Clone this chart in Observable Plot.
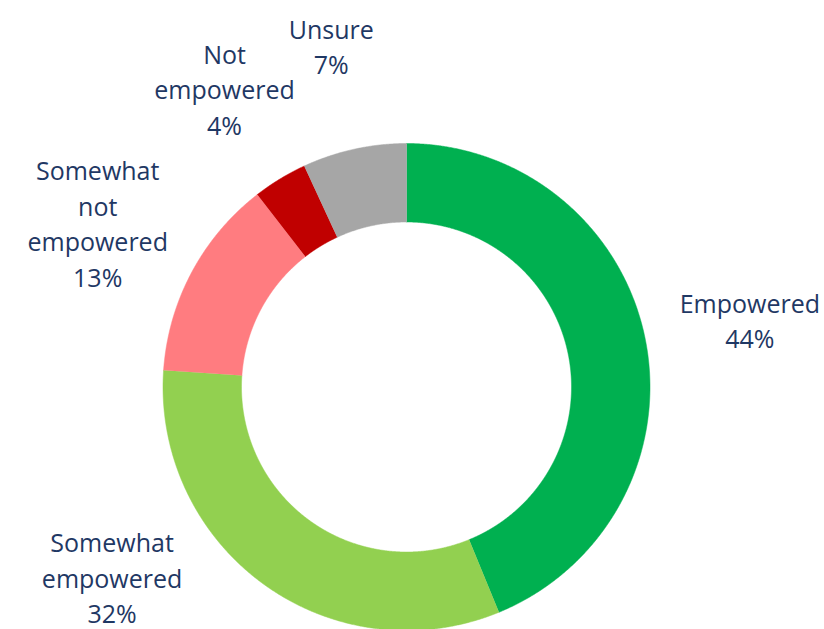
<!DOCTYPE html>
<html>
<head>
<meta charset="utf-8">
<script src="https://cdn.jsdelivr.net/npm/d3@7"></script>
<script src="https://cdn.jsdelivr.net/npm/@observablehq/plot@0.6"></script>
<style>
  html, body { margin: 0; padding: 0; background: #ffffff; }
  #chart svg { display: block; }
</style>
</head>
<body>
<div id="chart"></div>
<script>
// Data (share of respondents, %)
const categories = ["Empowered", "Somewhat empowered", "Somewhat not empowered", "Not empowered", "Unsure"];
const values = [43.8, 32.3, 13.4, 3.6, 6.9];
const labelNames = ["Empowered", "Somewhat\nempowered", "Somewhat\nnot\nempowered", "Not\nempowered", "Unsure"];
const colors = ["#00B050", "#92D050", "#FF7C80", "#C00000", "#A6A6A6"];

// Layout (pixel units, centre of the donut at 0,0, y up)
const W = 824, H = 629;
const cx = 406, cy = 386.5;
const outerR = 243.5, innerR = 165;
const labelR = 350, fontSize = 25, lineHeight = 1.42;

const total = d3.sum(values);
const toXY = (angleDeg, r) => {
  const a = angleDeg * Math.PI / 180;
  return [r * Math.sin(a), r * Math.cos(a)];
};

// Build slice polygons from the cumulative shares (clockwise from 12 o'clock)
const points = [];
const labels = [];
let acc = 0;
categories.forEach((cat, i) => {
  const a0 = acc / total * 360;
  acc += values[i];
  const a1 = acc / total * 360;
  const n = Math.max(2, Math.ceil((a1 - a0) / 0.25));
  for (let k = 0; k <= n; k++) {
    const [x, y] = toXY(a0 + (a1 - a0) * k / n, outerR);
    points.push({cat, x, y});
  }
  for (let k = n; k >= 0; k--) {
    const [x, y] = toXY(a0 + (a1 - a0) * k / n, innerR);
    points.push({cat, x, y});
  }
  // label on a circle around the donut, kept inside the frame
  const text = labelNames[i] + "\n" + Math.round(values[i]) + "%";
  const nLines = text.split("\n").length;
  const halfH = nLines * fontSize * lineHeight / 2;
  const mid = (a0 + a1) / 2;
  let [lx, ly] = toXY(mid, labelR);
  const yMin = -(H - cy) + halfH, yMax = cy - halfH;
  if (ly < yMin || ly > yMax) {
    ly = Math.max(yMin, Math.min(yMax, ly));
    lx = Math.sign(lx) * Math.sqrt(Math.max(0, labelR * labelR - ly * ly));
  }
  labels.push({cat, x: lx, y: ly, text});
});

const chart = Plot.plot({
  width: W,
  height: H,
  margin: 0,
  x: {domain: [-cx, W - cx], range: [0, W], axis: null},
  y: {domain: [-(H - cy), cy], range: [H, 0], axis: null},
  color: {domain: categories, range: colors},
  style: {background: "#ffffff", fontFamily: "'Open Sans', sans-serif"},
  marks: [
    Plot.line(points, {x: "x", y: "y", z: "cat", fill: "cat", stroke: "cat", strokeWidth: 0.5, curve: "linear"}),
    Plot.text(labels, {
      x: "x", y: "y", text: "text",
      fill: "#1F3864",
      fontSize: fontSize,
      lineHeight: lineHeight,
      textAnchor: "middle",
      fontFamily: "'Open Sans', sans-serif"
    })
  ]
});

document.getElementById("chart").appendChild(chart);
</script>
</body>
</html>
